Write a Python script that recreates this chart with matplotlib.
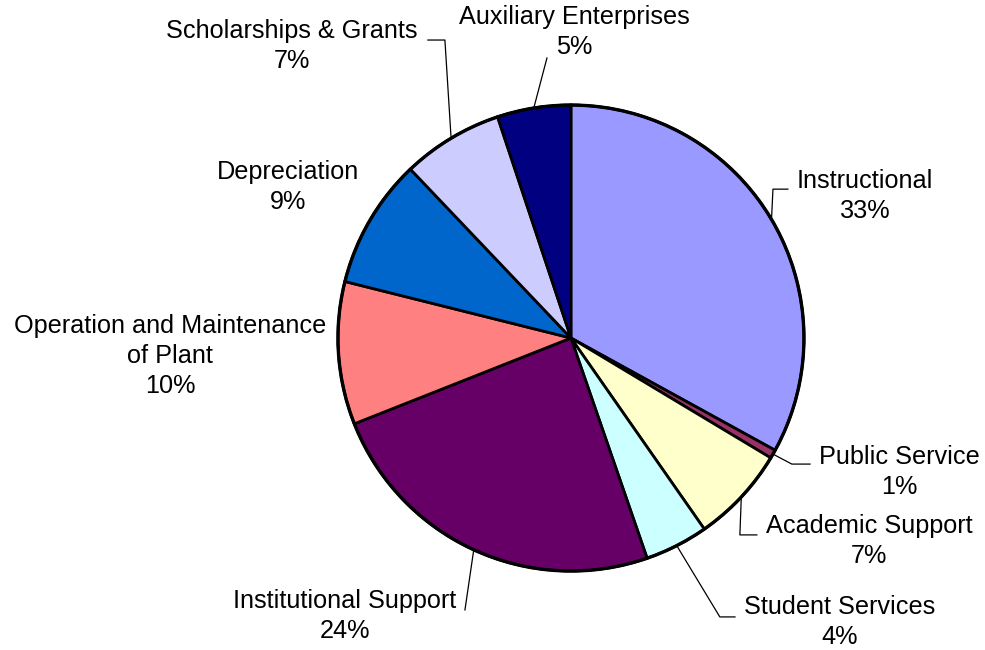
import numpy as np
import matplotlib
matplotlib.use("Agg")
import matplotlib.pyplot as plt
from matplotlib.patches import Circle

categories = ["Instructional", "Public Service", "Academic Support", "Student Services",
              "Institutional Support", "Operation and Maintenance\nof Plant", "Depreciation",
              "Scholarships & Grants", "Auxiliary Enterprises"]
values = [33.0, 0.6, 6.7, 4.4, 24.3, 9.9, 9.0, 7.0, 5.1]
colors = ["#9999FF", "#993366", "#FFFFCC", "#CCFFFF", "#660066",
          "#FF8080", "#0066CC", "#CCCCFF", "#000080"]

# label layout (data coords, pie radius = 1)
label_pos = [(1.262, 0.609), (1.408, -0.575), (1.279, -0.871), (1.155, -1.219),
             (-0.970, -1.193), (-1.721, -0.077), (-1.215, 0.648), (-1.197, 1.253),
             (0.013, 1.313)]
# leader path points after the wedge edge point (None = no leader)
leaders = [[(0.867, 0.639), (0.931, 0.639)],
           [(0.948, -0.541), (1.026, -0.541)],
           [(0.725, -0.845), (0.798, -0.845)],
           [(0.639, -1.197), (0.704, -1.197)],
           [(-0.455, -1.167)],
           None,
           None,
           [(-0.541, 1.279), (-0.614, 1.279)],
           [(-0.103, 1.202)]]

plt.rcParams['font.family'] = ['Liberation Sans', 'DejaVu Sans']
fig = plt.figure(figsize=(9.85, 6.5), dpi=100)
ax = fig.add_axes([0.3431, 0.1215, 0.4731, 0.7169])
wedges, _ = ax.pie(values, colors=colors, startangle=90, counterclock=False, radius=1,
                   wedgeprops=dict(edgecolor="black", linewidth=2.0))
ax.add_patch(Circle((0, 0), 1, fill=False, edgecolor="black", linewidth=2.4, clip_on=False))
ax.set_xlim(-1, 1)
ax.set_ylim(-1, 1)
ax.set_aspect('equal')
ax.axis('off')
for w in wedges:
    w.set_clip_on(False)

total = sum(values)
for i, (w, cat, v) in enumerate(zip(wedges, categories, values)):
    pct = int(round(v / total * 100))
    lx, ly = label_pos[i]
    ax.text(lx, ly, f"{cat}\n{pct}%", ha="center", va="center", fontsize=18.2,
            linespacing=1.3, clip_on=False)
    if leaders[i] is not None:
        ang = np.deg2rad((w.theta1 + w.theta2) / 2)
        pts = [(np.cos(ang), np.sin(ang))] + leaders[i]
        xs, ys = zip(*pts)
        ax.plot(xs, ys, color="black", linewidth=0.9, clip_on=False)

fig.savefig("out.png", dpi=100, facecolor="white")
